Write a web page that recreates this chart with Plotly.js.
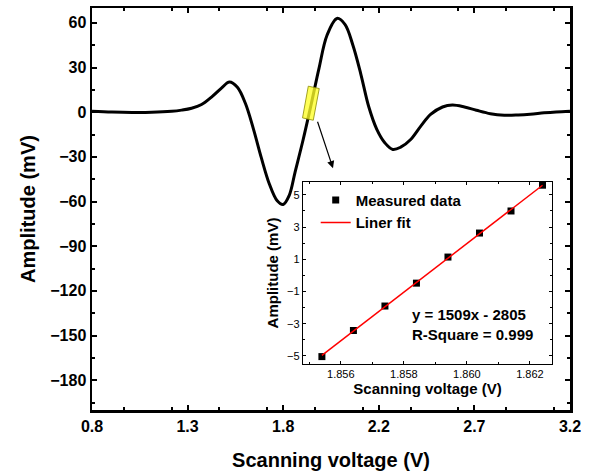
<!DOCTYPE html>
<html>
<head>
<meta charset="utf-8">
<script src="https://cdn.plot.ly/plotly-3.0.1.min.js"></script>
<style>html,body{margin:0;padding:0;background:#fff}#chart{width:597px;height:475px}</style>
</head>
<body>
<div id="chart"></div>
<script>
// Main waveform (Scanning voltage in V, Amplitude in mV)
var voltage = [0.8, 0.9, 1.0, 1.1, 1.2, 1.25, 1.3, 1.35, 1.4, 1.45, 1.49, 1.53, 1.57, 1.61, 1.65, 1.69, 1.73, 1.76, 1.79, 1.82, 1.86, 1.9, 1.94, 1.98, 2.03, 2.07, 2.11, 2.15, 2.19, 2.23, 2.27, 2.31, 2.35, 2.4, 2.45, 2.5, 2.56, 2.61, 2.67, 2.73, 2.8, 2.87, 2.94, 3.0, 3.07, 3.13, 3.2];
var amplitude = [0.7, 0.1, -0.2, -0.1, 0.6, 1.4, 2.7, 5.2, 10.2, 16.2, 20.3, 16.8, 6.0, -11.0, -30.5, -48.0, -59.5, -62.0, -56.0, -40.0, -18.5, 5.0, 29.6, 51.7, 63.0, 59.0, 45.0, 25.5, 3.5, -11.5, -20.5, -25.0, -23.5, -18.3, -9.5, -1.5, 3.5, 4.8, 3.5, 1.3, -1.0, -2.0, -1.8, -1.3, -0.4, 0.2, 0.7];

// Inset: measured points
var insetVoltage = [1.8554, 1.8564, 1.8574, 1.8584, 1.8594, 1.8604, 1.8614, 1.8624];
var insetAmplitude = [-5.04, -3.42, -1.90, -0.48, 1.14, 2.63, 4.00, 5.60];

var xTickStep = 0.48;
var fitLine1 = "y = 1509x - 2805";
var fitLine2 = "R-Square = 0.999";

// least-squares fit of the measured points
var n = insetVoltage.length, sx = 0, sy = 0, sxx = 0, sxy = 0;
for (var i = 0; i < n; i++) { sx += insetVoltage[i]; sy += insetAmplitude[i]; sxx += insetVoltage[i]*insetVoltage[i]; sxy += insetVoltage[i]*insetAmplitude[i]; }
var slope = (n*sxy - sx*sy) / (n*sxx - sx*sx);
var intercept = (sy - slope*sx) / n;
var fitX = [insetVoltage[0], insetVoltage[n-1]];
var fitY = fitX.map(function(v){ return slope*v + intercept; });

var F = "Arial, 'Liberation Sans', sans-serif";

var traces = [
  {x: voltage, y: amplitude, type: 'scatter', mode: 'lines', line: {color: '#000', width: 3, shape: 'spline', smoothing: 1}, showlegend: false, xaxis: 'x', yaxis: 'y', hoverinfo: 'skip'},
  {x: insetVoltage, y: insetAmplitude, type: 'scatter', mode: 'markers', name: 'Measured data', marker: {symbol: 'square', size: 7, color: '#000'}, xaxis: 'x2', yaxis: 'y2'},
  {x: fitX, y: fitY, type: 'scatter', mode: 'lines', name: 'Liner fit', line: {color: '#ff0000', width: 1.5}, xaxis: 'x2', yaxis: 'y2'}
];

var layout = {
  width: 597, height: 475,
  margin: {l: 92, r: 27, t: 8, b: 65},
  paper_bgcolor: '#fff', plot_bgcolor: '#fff',
  font: {family: F, color: '#000'},
  xaxis: {
    domain: [0, 1], range: [0.8, 3.2], tick0: 0.8, dtick: xTickStep, tickformat: '.1f',
    ticks: 'inside', ticklen: 5, tickwidth: 2, tickcolor: '#000',
    minor: {ticks: 'inside', ticklen: 3, tickwidth: 2, dtick: xTickStep/2, tickcolor: '#000'},
    showline: true, linewidth: 2.5, linecolor: '#000', mirror: 'allticks', showgrid: false, zeroline: false,
    tickfont: {family: F, size: 16, weight: 'bold'},
    title: {text: '<b>Scanning voltage (V)</b>', font: {family: F, size: 20}, standoff: 20}
  },
  yaxis: {
    domain: [0, 1], range: [-200, 70], tick0: 0, dtick: 30,
    ticks: 'inside', ticklen: 5, tickwidth: 2, tickcolor: '#000',
    minor: {ticks: 'inside', ticklen: 3, tickwidth: 2, dtick: 15, tickcolor: '#000'},
    showline: true, linewidth: 2.5, linecolor: '#000', mirror: 'allticks', showgrid: false, zeroline: false,
    tickfont: {family: F, size: 16, weight: 'bold'},
    title: {text: '<b>Amplitude (mV)</b>', font: {family: F, size: 20}, standoff: 10}
  },
  xaxis2: {
    domain: [0.4414, 0.9623], anchor: 'y2', range: [1.8548, 1.8627], tick0: 1.856, dtick: 0.002, tickformat: '.3f',
    ticks: 'inside', ticklen: 3, tickwidth: 1, tickcolor: '#000',
    minor: {ticks: 'inside', ticklen: 2, tickwidth: 1, dtick: 0.001, tickcolor: '#000'},
    showline: true, linewidth: 1.2, linecolor: '#000', mirror: 'allticks', showgrid: false, zeroline: false,
    tickfont: {family: F, size: 11},
    title: {text: '<b>Scanning voltage (V)</b>', font: {family: F, size: 15}, standoff: 2}
  },
  yaxis2: {
    domain: [0.1144, 0.5672], anchor: 'x2', range: [-5.5, 5.8], tick0: -5, dtick: 2,
    ticks: 'inside', ticklen: 3, tickwidth: 1, tickcolor: '#000',
    minor: {ticks: 'inside', ticklen: 2, tickwidth: 1, dtick: 1, tickcolor: '#000'},
    showline: true, linewidth: 1.2, linecolor: '#000', mirror: 'allticks', showgrid: false, zeroline: false,
    tickfont: {family: F, size: 11},
    title: {text: '<b>Amplitude (mV)</b>', font: {family: F, size: 15}, standoff: 4}
  },
  legend: {
    x: 0.468, y: 0.563, xanchor: 'left', yanchor: 'top', bgcolor: 'rgba(0,0,0,0)', borderwidth: 0,
    font: {family: F, size: 15, weight: 'bold'}, tracegroupgap: 0, itemwidth: 30
  },
  annotations: [
    {xref: 'paper', yref: 'paper', x: (410-92)/478, y: (410-324)/402, xanchor: 'left', yanchor: 'middle', align: 'left',
     text: '<b>' + fitLine1 + '</b><br><b>' + fitLine2 + '</b>', showarrow: false, font: {family: F, size: 15, color: '#000'}},
    {xref: 'x', yref: 'y', axref: 'x', ayref: 'y', x: 2.010, y: -37.6, ax: 1.930, ay: -5.4, text: '', showarrow: true,
     arrowhead: 2, arrowsize: 1.2, arrowwidth: 1.2, arrowcolor: '#000'}
  ],
  shapes: [
    {type: 'path', xref: 'x', yref: 'y', path: 'M 1.886 17.5 L 1.941 15.9 L 1.911 -5.4 L 1.857 -3.8 Z',
     fillcolor: 'rgba(255,255,40,0.78)', line: {color: '#8a8a00', width: 0.8}, layer: 'above'}
  ]
};

Plotly.newPlot('chart', traces, layout, {displayModeBar: false, staticPlot: true});
</script>
</body>
</html>
